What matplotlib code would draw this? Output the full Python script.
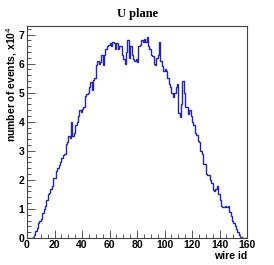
import matplotlib
matplotlib.use("Agg")
import matplotlib.pyplot as plt
from matplotlib.ticker import MultipleLocator
import numpy as np

# Events per wire (x10^4), wires 0..159
counts = [
    0, 0, 0, 0, 0.02, 0.1, 0.25, 0.35, 0.5, 0.6,
    0.65, 0.85, 1.0, 1.1, 1.3, 1.5, 1.55, 1.7, 1.8, 2.05,
    2.05, 2.3, 2.4, 2.5, 2.6, 2.75, 2.85, 2.9, 3.25, 3.3,
    3.5, 3.45, 4.0, 3.5, 3.6, 3.9, 4.0, 4.2, 4.4, 4.35,
    4.45, 4.5, 4.9, 4.95, 5.0, 5.2, 5.35, 5.1, 5.45, 5.5,
    5.95, 6.1, 6.0, 6.05, 6.3, 5.95, 6.3, 6.5, 6.6, 6.65,
    6.7, 6.6, 6.75, 6.7, 6.5, 6.7, 6.5, 6.6, 6.6, 6.3,
    6.15, 6.0, 6.4, 6.8, 6.2, 6.6, 6.3, 6.15, 6.1, 6.15,
    6.05, 6.6, 6.65, 6.8, 6.75, 6.85, 6.75, 6.9, 6.6, 6.5,
    6.3, 6.25, 6.0, 5.95, 6.2, 6.3, 6.75, 6.1, 5.9, 5.75,
    5.8, 5.75, 5.5, 5.3, 5.2, 5.0, 4.85, 5.0, 5.2, 5.3,
    4.3, 4.15, 4.6, 5.4, 5.0, 4.5, 4.5, 4.25, 4.4, 4.2,
    4.0, 3.9, 3.6, 3.55, 3.35, 3.3, 3.0, 2.9, 2.55, 2.55,
    2.2, 2.15, 2.15, 2.0, 1.9, 1.65, 1.6, 1.7, 1.8, 1.5,
    1.3, 1.1, 1.05, 1.05, 1.1, 1.05, 1.1, 0.9, 0.75, 0.6,
    0.5, 0.4, 0.3, 0.2, 0.1, 0.05, 0, 0, 0, 0,
]
bin_edges = np.arange(0, len(counts) + 1)

title = "U plane"
xlabel = "wire id"
ylabel = "number of events, x10$^4$"

W, H = 274, 265
fig = plt.figure(figsize=(W / 100, H / 100), dpi=100)
ax = fig.add_axes([27 / W, 1 - 238 / H, 220 / W, 212 / H])

ax.stairs(counts, bin_edges, color="#2424b0", lw=1.0)

ax.set_xlim(0, 160)
ax.set_ylim(0, 212 / 29.07)

ax.xaxis.set_major_locator(MultipleLocator(20))
ax.xaxis.set_minor_locator(MultipleLocator(5))
ax.yaxis.set_major_locator(MultipleLocator(1))
ax.yaxis.set_minor_locator(MultipleLocator(0.2))
ax.tick_params(which="both", direction="in", top=False, right=False,
               color="#555555", width=0.7)
ax.tick_params(which="major", length=6, pad=1.5)
ax.tick_params(which="minor", length=3)
for lab in ax.get_xticklabels() + ax.get_yticklabels():
    lab.set_fontfamily("Liberation Sans")
    lab.set_fontweight("bold")
    lab.set_fontsize(7.5)
ax.tick_params(axis="y", pad=2)
for s in ax.spines.values():
    s.set_color("#444444")
    s.set_linewidth(0.8)

fig.text(137.5 / W, 1 - 14 / H, title, ha="center", va="center",
         family="Liberation Serif", fontweight="bold", fontsize=9)
fig.text(247 / W, 1 - 256 / H, xlabel, ha="right", va="center",
         family="Liberation Sans", fontweight="bold", fontsize=7.5)
fig.text(12 / W, 1 - 26 / H, ylabel, ha="center", va="top", rotation=90,
         family="Liberation Sans", fontweight="bold", fontsize=7.5)

fig.savefig("out.png", dpi=100)
